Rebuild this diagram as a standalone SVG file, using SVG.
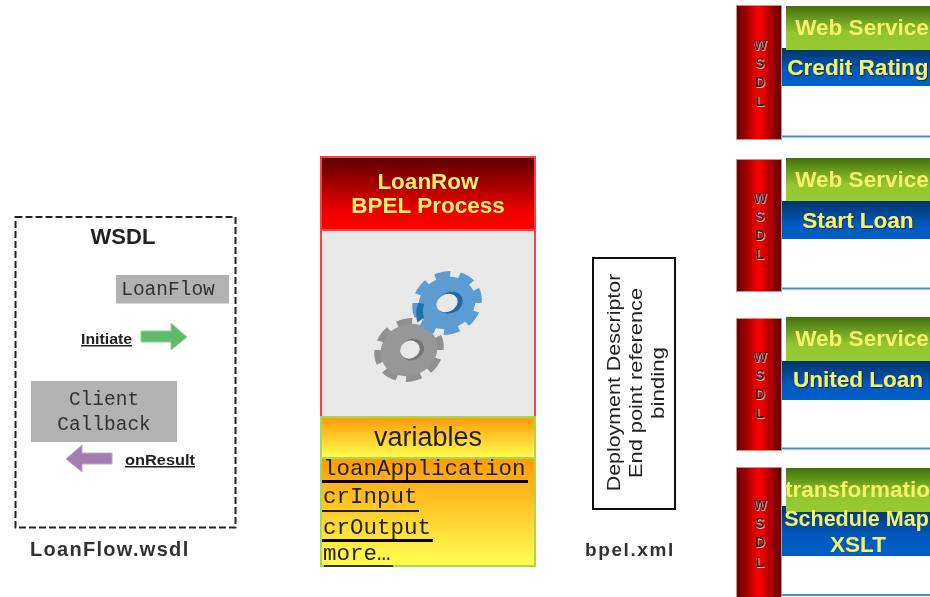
<svg xmlns="http://www.w3.org/2000/svg" width="930" height="597" viewBox="0 0 930 597">
<style>
.s{font-family:"Liberation Sans",Arial,sans-serif;font-weight:700}
.m{font-family:"Liberation Mono","Courier New",monospace}
.y{fill:#f6f06a;text-anchor:middle;font-size:22.500px}
.ys{fill:#f6f06a;text-anchor:middle;font-size:22.500px;filter:url(#sh)}
.w{fill:#222;text-anchor:middle;font-size:14px;font-family:"Liberation Sans",Arial,sans-serif;font-weight:700;filter:url(#lt)}
.cap{fill:#333;font-size:20px;letter-spacing:1.300px}
.v{fill:#222;font-size:22.500px}
.c{fill:#333;font-size:19.500px;text-anchor:middle}
.d{fill:#222;font-size:18px;text-anchor:middle;font-family:"Liberation Sans",Arial,sans-serif}
</style>
<defs>
<filter id="soft" x="-2%" y="-2%" width="104%" height="104%"><feGaussianBlur stdDeviation="0.55"/></filter>
<filter id="sh" x="-5%" y="-10%" width="110%" height="130%"><feDropShadow dx="0.8" dy="0.8" stdDeviation="0.5" flood-color="#111" flood-opacity="0.75"/></filter>
<filter id="lt" x="-30%" y="-30%" width="160%" height="160%"><feDropShadow dx="0.6" dy="1" stdDeviation="0.2" flood-color="#fff" flood-opacity="0.7"/></filter>
<linearGradient id="red" x1="0" x2="1" y1="0" y2="0"><stop offset="0" stop-color="#5e0000"/><stop offset=".5" stop-color="#ff0000"/><stop offset="1" stop-color="#5e0000"/></linearGradient>
<linearGradient id="grn" x1="0" x2="0" y1="0" y2="1"><stop offset="0" stop-color="#42700c"/><stop offset=".6" stop-color="#92c62e"/><stop offset="1" stop-color="#98ca32"/></linearGradient>
<linearGradient id="blu" x1="0" x2="0" y1="0" y2="1"><stop offset="0" stop-color="#003468"/><stop offset=".6" stop-color="#0058bd"/><stop offset="1" stop-color="#0060c8"/></linearGradient>
<linearGradient id="head" x1="0" x2="0" y1="0" y2="1"><stop offset="0" stop-color="#5a0000"/><stop offset=".75" stop-color="#f00000"/><stop offset="1" stop-color="#ff0000"/></linearGradient>
<linearGradient id="org" x1="0" x2="0" y1="0" y2="1"><stop offset="0" stop-color="#ff9a08"/><stop offset="1" stop-color="#ffff50"/></linearGradient>
</defs>
<rect width="930" height="597" fill="#fff"/>
<g filter="url(#soft)">
<g id="connectors"></g>

<g id="wsdl-file">
<rect x="15.500" y="217" width="220" height="310.500" fill="#fff" stroke="#222" stroke-width="2" stroke-dasharray="7 3"/>
<text class="s" x="123" y="244" text-anchor="middle" font-size="22" fill="#222">WSDL</text>
<rect x="116" y="275" width="113" height="28.500" fill="#b2b2b2"/>
<text class="m" x="168" y="295" text-anchor="middle" font-size="19.500" fill="#333">LoanFlow</text>
<text class="s" x="81" y="344" font-size="15" fill="#222" text-decoration="underline" textLength="51" lengthAdjust="spacingAndGlyphs">Initiate</text>
<polygon points="141,331 171,331 171,323 187,337 171,350 171,342 141,342" fill="#5fbb6c" stroke="#8fd09a"/>
<rect x="31" y="381" width="146" height="61" fill="#b2b2b2"/>
<text class="m c" x="104" y="405">Client</text>
<text class="m c" x="104" y="430">Callback</text>
<polygon points="112,453 82,453 82,445 66,459 82,472 82,464 112,464" fill="#a37cb0" stroke="#c0a4ca"/>
<text class="s" x="125" y="465" font-size="15" fill="#222" text-decoration="underline" textLength="70" lengthAdjust="spacingAndGlyphs">onResult</text>
<text class="s cap" x="30" y="556">LoanFlow.wsdl</text>
</g>

<g id="bpel-process">
<rect x="321" y="157" width="214" height="260" fill="#e8e8e8" stroke="#ff4040" stroke-width="2"/>
<rect x="321" y="157" width="214" height="73" fill="url(#head)" stroke="#ff4040" stroke-width="2"/>
<text class="s y" x="428" y="189">LoanRow</text>
<text class="s y" x="428" y="213">BPEL Process</text>
<g transform="translate(409,350) rotate(-25) scale(1,.88)">
<circle r="31" fill="none" stroke="#909090" stroke-width="9" stroke-dasharray="15 9.350"/>
<circle r="29" fill="#979797"/>
<ellipse cx="3" cy="1" rx="12" ry="12" fill="#757575"/>
<ellipse cx="1" cy="0" rx="10" ry="10" fill="#e8e8e8"/>
</g>
<g transform="translate(447,303) rotate(-25) scale(1,.88)">
<circle r="31" fill="none" stroke="#5d9bd3" stroke-width="9" stroke-dasharray="15 9.350"/>
<circle r="29" fill="#5d9bd3"/>
<path d="M-35,6 A36,36 0 0 1 -26,-14 L-21,-10 A24,24 0 0 0 -27,4 Z" fill="#1d6fae"/>
<ellipse cx="3" cy="1" rx="13" ry="12" fill="#1a6aa8"/>
<ellipse cx="0" cy="0" rx="11" ry="10" fill="#e8e8e8"/>
</g>
</g>

<g id="variables">
<rect x="321" y="458" width="214" height="108" fill="url(#org)" stroke="#a8d84e" stroke-width="2"/>
<rect x="321" y="417" width="214" height="41" fill="url(#org)" stroke="#a8d84e" stroke-width="2"/>
<text x="428" y="446" text-anchor="middle" font-family="'Liberation Sans',Arial,sans-serif" font-size="27" fill="#1c2228">variables</text>
<text class="m v" x="323" y="475">loanApplication</text>
<rect x="322" y="480" width="206" height="3" fill="#000"/>
<text class="m v" x="323" y="503">crInput</text>
<rect x="322" y="510" width="97" height="2" fill="#222"/>
<text class="m v" x="323" y="534">crOutput</text>
<rect x="322" y="539" width="111" height="3" fill="#000"/>
<text class="m v" x="323" y="560">more…</text>
<rect x="324" y="565" width="69" height="2" fill="#333"/>
</g>

<g id="deployment-descriptor">
<rect x="593" y="258" width="82" height="251" fill="#fff" stroke="#111" stroke-width="2"/>
<text class="d" transform="translate(620,382.500) rotate(-90) scale(1.190,1)">Deployment Descriptor</text>
<text class="d" transform="translate(642,383) rotate(-90) scale(1.210,1)">End point reference</text>
<text class="d" transform="translate(664,383) rotate(-90) scale(1.240,1)">binding</text>
<text class="s" x="585" y="556" font-size="19" letter-spacing="1.600" fill="#333">bpel.xml</text>
</g>

<g id="service-credit">
<rect x="782" y="86" width="148" height="51" fill="#fff"/>
<rect x="782" y="135.500" width="148" height="2" fill="#3d8ee0"/>
<rect x="782" y="48" width="148" height="38" fill="url(#blu)"/>
<rect x="736.500" y="5.500" width="45" height="134" fill="url(#red)" stroke="#c89090"/>
<rect x="786" y="6" width="144" height="44" fill="url(#grn)"/>
<text class="s y" x="862" y="35">Web Service</text>
<text class="s ys" x="858" y="75">Credit Rating</text>
<text class="w" x="760" y="50">W</text><text class="w" x="760" y="68">S</text><text class="w" x="760" y="87">D</text><text class="w" x="760" y="106">L</text>
</g>

<g id="service-start">
<rect x="782" y="239" width="148" height="50" fill="#fff"/>
<rect x="782" y="287.500" width="148" height="2" fill="#3d8ee0"/>
<rect x="782" y="201" width="148" height="38" fill="url(#blu)"/>
<rect x="736.500" y="159.500" width="45" height="132" fill="url(#red)" stroke="#c89090"/>
<rect x="786" y="158" width="144" height="43" fill="url(#grn)"/>
<text class="s y" x="862" y="187">Web Service</text>
<text class="s ys" x="858" y="228">Start Loan</text>
<text class="w" x="760" y="203">W</text><text class="w" x="760" y="221">S</text><text class="w" x="760" y="240">D</text><text class="w" x="760" y="259">L</text>
</g>

<g id="service-united">
<rect x="782" y="400" width="148" height="49" fill="#fff"/>
<rect x="782" y="447.500" width="148" height="2" fill="#3d8ee0"/>
<rect x="782" y="361" width="148" height="39" fill="url(#blu)"/>
<rect x="736.500" y="318.500" width="45" height="132" fill="url(#red)" stroke="#c89090"/>
<rect x="786" y="317" width="144" height="44" fill="url(#grn)"/>
<text class="s y" x="862" y="346">Web Service</text>
<text class="s ys" x="858" y="387">United Loan</text>
<text class="w" x="760" y="362">W</text><text class="w" x="760" y="380">S</text><text class="w" x="760" y="399">D</text><text class="w" x="760" y="418">L</text>
</g>

<g id="service-schedule">
<rect x="782" y="556" width="148" height="41" fill="#fff"/>
<rect x="782" y="594" width="148" height="2" fill="#3d8ee0"/>
<rect x="782" y="506" width="148" height="50" fill="url(#blu)"/>
<rect x="736.500" y="467.500" width="45" height="135" fill="url(#red)" stroke="#c89090"/>
<rect x="786" y="468" width="144" height="44" fill="url(#grn)"/>
<text class="s y" x="785" y="497" style="text-anchor:start">transformation</text>
<text class="s y" x="856.500" y="526" style="font-size:21.500px">Schedule Map</text>
<text class="s y" x="858" y="552">XSLT</text>
<text class="w" x="760" y="510">W</text><text class="w" x="760" y="528">S</text><text class="w" x="760" y="547">D</text><text class="w" x="760" y="567">L</text>
</g>
</g>
</svg>
